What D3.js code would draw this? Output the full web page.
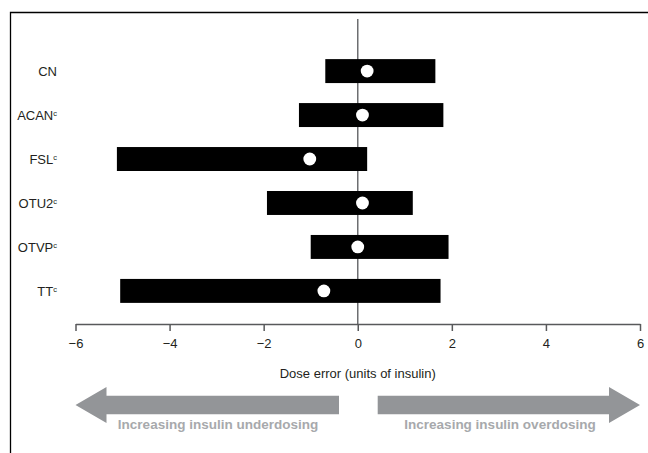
<!DOCTYPE html>
<html>
<head>
<meta charset="utf-8">
<script src="https://cdn.jsdelivr.net/npm/d3@7"></script>
<style>
  body { margin: 0; background: #fff; }
  text { font-family: "Liberation Sans", Arial, sans-serif; }
</style>
</head>
<body>
<div class="container"></div>
<script>
var width = 648,
  height = 453;

// data
var methods = ["CN", "ACAN", "FSL", "OTU2", "OTVP", "TT"];
var marks = ["", "c", "c", "c", "c", "c"];
var lower = [-0.69, -1.25, -5.12, -1.93, -1.00, -5.05];
var upper = [1.65, 1.82, 0.20, 1.17, 1.93, 1.76];
var mean = [0.20, 0.10, -1.02, 0.10, 0.00, -0.72];
var ticks = [-6, -4, -2, 0, 2, 4, 6];

var x = d3.scaleLinear().domain([-6, 6]).range([75.5, 640]);
var y = d3.scaleBand().domain(methods).range([49, 313]).paddingInner(0.455).paddingOuter(0.23);

var svg = d3.select(".container").append("svg")
  .attr("width", width)
  .attr("height", height);

// frame
svg.append("path")
  .attr("d", "M10.5," + height + "V12.5H" + width)
  .attr("fill", "none")
  .attr("stroke", "#000")
  .attr("stroke-width", 1.3);

// zero line
svg.append("line")
  .attr("x1", x(0)).attr("x2", x(0))
  .attr("y1", 19).attr("y2", 324)
  .attr("stroke", "#6d6e71")
  .attr("stroke-width", 1.5);

var rows = methods.map(function (m, i) {
  return { name: m, mark: marks[i], lo: lower[i], hi: upper[i], mean: mean[i] };
});

svg.selectAll("rect.bar")
  .data(rows)
  .enter().append("rect")
  .attr("class", "bar")
  .attr("x", function (d) { return x(d.lo); })
  .attr("y", function (d) { return y(d.name); })
  .attr("width", function (d) { return x(d.hi) - x(d.lo); })
  .attr("height", y.bandwidth())
  .attr("fill", "#000");

svg.selectAll("circle.dot")
  .data(rows)
  .enter().append("circle")
  .attr("class", "dot")
  .attr("cx", function (d) { return x(d.mean); })
  .attr("cy", function (d) { return y(d.name) + y.bandwidth() / 2; })
  .attr("r", 6.4)
  .attr("fill", "#fff");

// category labels
var lab = svg.selectAll("text.cat")
  .data(rows)
  .enter().append("text")
  .attr("class", "cat")
  .attr("x", 57)
  .attr("y", function (d) { return y(d.name) + y.bandwidth() / 2 + 4.6; })
  .attr("text-anchor", "end")
  .attr("font-size", 13)
  .attr("fill", "#231f20");
lab.append("tspan").text(function (d) { return d.name; });
lab.append("tspan")
  .attr("font-size", 7.5)
  .attr("dy", -4)
  .text(function (d) { return d.mark; });

// x axis
var axis = svg.append("g")
  .attr("transform", "translate(0,324)")
  .call(d3.axisBottom(x).tickValues(ticks).tickSize(7).tickSizeOuter(0)
    .tickFormat(function (d) { return d < 0 ? "\u2212" + Math.abs(d) : d; }));
axis.select(".domain").attr("stroke", "#58595b").attr("stroke-width", 1.5);
axis.selectAll(".tick line").attr("stroke", "#58595b").attr("stroke-width", 1.5);
axis.selectAll(".tick text")
  .attr("font-family", "Liberation Sans, Arial, sans-serif")
  .attr("font-size", 13)
  .attr("fill", "#231f20")
  .attr("dy", "1.05em");

svg.append("text")
  .attr("x", x(0))
  .attr("y", 378)
  .attr("text-anchor", "middle")
  .attr("font-size", 13)
  .attr("fill", "#231f20")
  .text("Dose error (units of insulin)");

// direction arrows
var arrowY = 405, bodyH = 18.6, headH = 36, headL = 31;
function arrow(xTip, xEnd) {
  var s = xTip < xEnd ? 1 : -1;
  var xb = xTip + s * headL;
  return "M" + xTip + "," + arrowY +
    "L" + xb + "," + (arrowY - headH / 2) +
    "V" + (arrowY - bodyH / 2) +
    "H" + xEnd +
    "V" + (arrowY + bodyH / 2) +
    "H" + xb +
    "V" + (arrowY + headH / 2) + "Z";
}
svg.append("path").attr("d", arrow(x(-6), 339)).attr("fill", "#939598");
svg.append("path").attr("d", arrow(x(6), 377.7)).attr("fill", "#939598");

svg.append("text")
  .attr("x", 218)
  .attr("y", 429)
  .attr("text-anchor", "middle")
  .attr("font-size", 13.5)
  .attr("font-weight", "bold")
  .attr("fill", "#a7a9ac")
  .text("Increasing insulin underdosing");

svg.append("text")
  .attr("x", 500)
  .attr("y", 429)
  .attr("text-anchor", "middle")
  .attr("font-size", 13.5)
  .attr("font-weight", "bold")
  .attr("fill", "#a7a9ac")
  .text("Increasing insulin overdosing");
</script>
</body>
</html>
